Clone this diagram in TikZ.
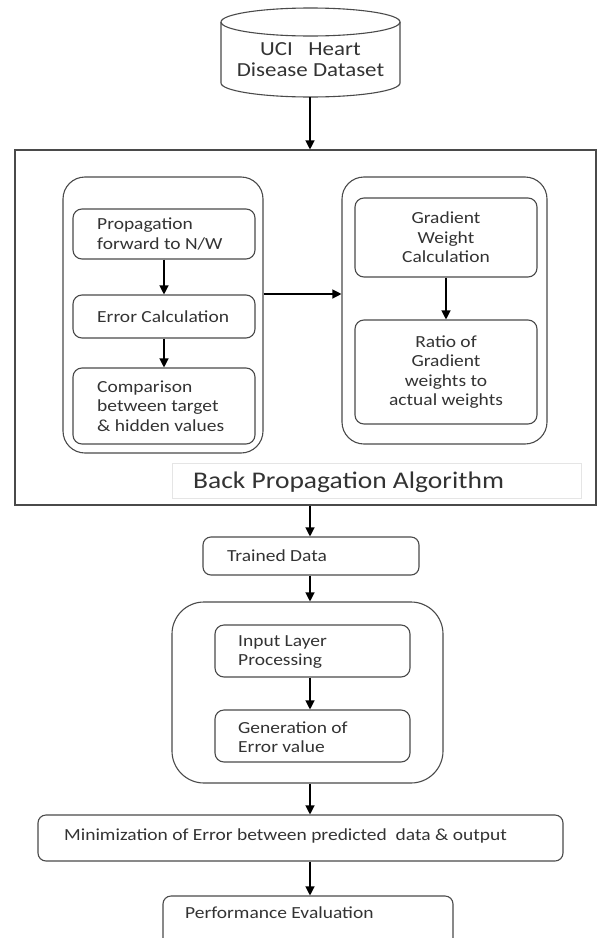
\documentclass[tikz,border=0pt]{standalone}
\usepackage{fontspec}
\setmainfont[FakeStretch=1.15]{Carlito}
\usetikzlibrary{arrows.meta}
\definecolor{linec}{HTML}{4A4A4A}
\definecolor{textc}{HTML}{333333}
\tikzset{
  line/.style={draw=linec, line width=1.1bp},
  box/.style={line, rounded corners=9bp, fill=white, inner sep=0pt},
  grp/.style={line, rounded corners=22bp, inner sep=0pt},
  txt/.style={text=textc, font=\fontsize{17}{19.5}\selectfont, inner sep=0pt},
  arr/.style={-{Triangle[length=9bp,width=9bp]}, line width=1.2bp, draw=black},
}
\begin{document}
\begin{tikzpicture}[x=1bp,y=-1bp]
\clip (0,0) rectangle (598,938);
\fill[white] (0,0) rectangle (598,938);
\coordinate (axis) at (310,0);
\coordinate (hy) at (0,294);

% cylinder
\draw[line] (310.5,22) ellipse[x radius=89.5, y radius=14];
\draw[line] (221,22) -- (221,83) arc[start angle=180, end angle=0, x radius=89.5, y radius=14] -- (400,22);
\node[txt, align=center, font=\fontsize{20}{21}\selectfont, minimum width=179bp, minimum height=75bp] (cyl) at (310.5,59.5) {UCI\ \ \ Heart\\Disease Dataset};

% outer box
\node[line, minimum width=581bp, minimum height=355bp, inner sep=0pt] (outer) at (305.5,327.5) {};

% left group
\node[grp, minimum width=200bp, minimum height=276bp] (lgroup) at (163,315) {};
\node[box, minimum width=182bp, minimum height=50bp] (prop) at (164,234) {};
\node[txt, anchor=west, align=left] (propt) at (97,234) {Propagation\\forward to N/W};
\node[box, minimum width=182bp, minimum height=43bp] (errc) at (164,316.5) {};
\node[txt, anchor=west, align=left] (errct) at (97,316.5) {Error Calculation};
\node[box, minimum width=182bp, minimum height=76bp] (comp) at (164,406) {};
\node[txt, anchor=west, align=left] (compt) at (97,406) {Comparison\\between target\\\& hidden values};

% right group
\node[grp, minimum width=205bp, minimum height=267bp] (rgroup) at (444.5,310.5) {};
\node[box, minimum width=182bp, minimum height=79bp] (grad) at (446,237.5) {};
\node[txt, align=center] (gradt) at (446,237.5) {Gradient\\Weight\\Calculation};
\node[box, minimum width=182bp, minimum height=104bp] (ratio) at (446,372) {};
\node[txt, align=center] (ratiot) at (446,372) {Ratio of\\Gradient\\weights to\\actual weights};

% label
\node[draw=black!10, line width=0.8bp, fill=white, minimum width=409bp, minimum height=35bp, inner sep=0pt] (lab) at (376.5,480.5) {};
\node[txt, anchor=west, font=\fontsize{24}{26}\selectfont] (labt) at (193,482) {Back Propagation Algorithm};

% trained data
\node[box, minimum width=216bp, minimum height=38bp, rounded corners=8bp] (trained) at (311,556) {};
\node[txt, anchor=west] (trainedt) at (227,556) {Trained Data};

% bottom group
\node[grp, rounded corners=32bp, minimum width=271bp, minimum height=181bp] (bgroup) at (307.5,692.5) {};
\node[box, minimum width=195bp, minimum height=52bp] (inp) at (312.5,651) {};
\node[txt, anchor=west, align=left] (inpt) at (238,652) {Input Layer\\Processing};
\node[box, minimum width=195bp, minimum height=52bp] (gen) at (312.5,736) {};
\node[txt, anchor=west, align=left] (gent) at (238,737) {Generation of\\Error value};

% minimization
\node[box, minimum width=525bp, minimum height=46bp, rounded corners=8bp] (minim) at (300.5,838) {};
\node[txt, anchor=west] (minimt) at (64,836) {Minimization of Error between predicted\ \ data \& output};

% performance
\node[box, minimum width=290bp, minimum height=60bp, rounded corners=8bp] (perf) at (308,926) {};
\node[txt, anchor=west] (perft) at (185,913) {Performance Evaluation};

% arrows
\draw[arr] (cyl.south -| axis) -- (outer.north -| axis);
\draw[arr] (prop.south) -- (errc.north);
\draw[arr] (errc.south) -- (comp.north);
\draw[arr] (lgroup.east |- hy) -- (rgroup.west |- hy);
\draw[arr] (grad.south) -- (ratio.north);
\draw[arr] (outer.south -| axis) -- (trained.north -| axis);
\draw[arr] (trained.south -| axis) -- (bgroup.north -| axis);
\draw[arr] (inp.south -| axis) -- (gen.north -| axis);
\draw[arr] (bgroup.south -| axis) -- (minim.north -| axis);
\draw[arr] (minim.south -| axis) -- (perf.north -| axis);
\end{tikzpicture}
\end{document}
